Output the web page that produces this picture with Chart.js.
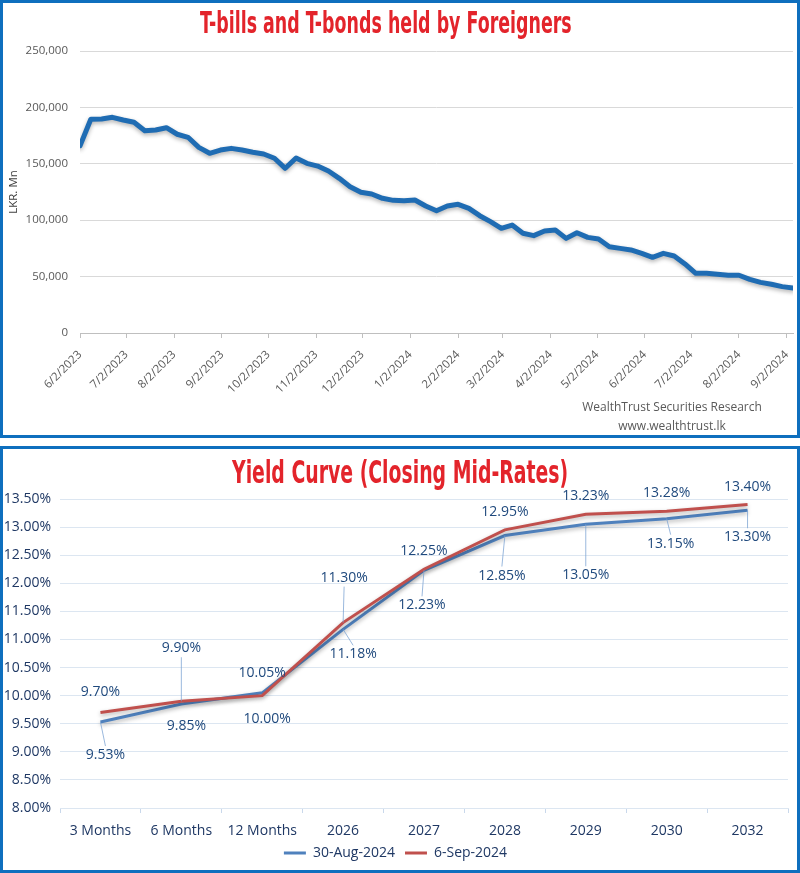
<!DOCTYPE html>
<html>
<head>
<meta charset="utf-8">
<script src="https://cdn.jsdelivr.net/npm/chart.js@4.4.1/dist/chart.umd.min.js"></script>
<style>
  html, body { margin: 0; padding: 0; background: #fff; }
  body { width: 800px; height: 873px; position: relative; overflow: hidden; }
  .panel { position: absolute; left: 0; width: 800px; box-sizing: border-box; border: 3px solid #0E6FBE; background: #fff; }
  .wrap { position: absolute; left: 0; top: 0; }
  .title { position: absolute; white-space: nowrap; font-family: 'Liberation Sans Narrow', 'DejaVu Sans Condensed', 'Liberation Sans', sans-serif; font-weight: bold; color: #E3242B; transform-origin: 0 50%; }
  .src { position: absolute; width: 240px; text-align: center; font-family: 'Open Sans', sans-serif; font-size: 12px; line-height: 19px; color: #595959; }
</style>
</head>
<body>
<div class="panel" id="p1" style="top:0;height:438px;">
  <div class="wrap" style="width:794px;height:432px;"><canvas id="c1"></canvas></div>
  <div class="title" id="t1" style="font-size:30px;">T-bills and T-bonds held by Foreigners</div>
  <div class="src" style="left:549px;top:394px;">WealthTrust Securities Research<br>www.wealthtrust.lk</div>
</div>
<div class="panel" id="p2" style="top:446px;height:427px;">
  <div class="wrap" style="width:794px;height:421px;"><canvas id="c2"></canvas></div>
  <div class="title" id="t2" style="font-size:32px;">Yield Curve (Closing Mid-Rates)</div>
</div>
<script>
// ---------- Chart 1 data ----------
const weekDates = [
  '2023-06-02','2023-06-09','2023-06-16','2023-06-23','2023-06-30',
  '2023-07-07','2023-07-14','2023-07-21','2023-07-28',
  '2023-08-04','2023-08-11','2023-08-18','2023-08-25',
  '2023-09-01','2023-09-08','2023-09-15','2023-09-22','2023-09-29',
  '2023-10-06','2023-10-13','2023-10-20','2023-10-27',
  '2023-11-03','2023-11-10','2023-11-17','2023-11-24',
  '2023-12-01','2023-12-08','2023-12-15','2023-12-22','2023-12-29',
  '2024-01-05','2024-01-12','2024-01-19','2024-01-26',
  '2024-02-02','2024-02-09','2024-02-16','2024-02-23',
  '2024-03-01','2024-03-08','2024-03-15','2024-03-22','2024-03-29',
  '2024-04-05','2024-04-12','2024-04-19','2024-04-26',
  '2024-05-03','2024-05-10','2024-05-17','2024-05-24','2024-05-31',
  '2024-06-07','2024-06-14','2024-06-21','2024-06-28',
  '2024-07-05','2024-07-12','2024-07-19','2024-07-26',
  '2024-08-02','2024-08-09','2024-08-16','2024-08-23','2024-08-30',
  '2024-09-06'
];
const foreignHoldings = [
  166000,189500,189800,191200,188800,
  186800,179300,180000,182000,
  176200,173500,164600,159300,
  162200,163700,162200,160200,158700,
  154900,146000,155100,150400,
  148000,143600,137100,129700,
  124700,123200,119400,117600,117300,
  117900,112600,108400,112600,
  114100,110500,104000,98700,
  92800,95700,88400,86300,90400,
  91300,83900,88900,84800,
  83300,76500,75000,73600,70600,
  67100,70600,68300,61200,
  52900,52900,52000,51200,
  51200,47600,44900,43200,41100,
  39900
];
const monthTickLabels = ['6/2/2023','7/2/2023','8/2/2023','9/2/2023','10/2/2023','11/2/2023','12/2/2023',
  '1/2/2024','2/2/2024','3/2/2024','4/2/2024','5/2/2024','6/2/2024','7/2/2024','8/2/2024','9/2/2024'];
const holdingsTicks = [0, 50000, 100000, 150000, 200000, 250000];

// ---------- Chart 2 data ----------
const tenors = ['3 Months','6 Months','12 Months','2026','2027','2028','2029','2030','2032'];
const yield30Aug = [9.53, 9.85, 10.05, 11.18, 12.23, 12.85, 13.05, 13.15, 13.30];
const yield6Sep  = [9.70, 9.90, 10.00, 11.30, 12.25, 12.95, 13.23, 13.28, 13.40];
const seriesNames = ['30-Aug-2024', '6-Sep-2024'];
const yieldTicks = [8.0, 8.5, 9.0, 9.5, 10.0, 10.5, 11.0, 11.5, 12.0, 12.5, 13.0, 13.5];

// label placement (pixel offsets from each point) — layout only
const labelOffsets = [
  [[5,33],[5,22],[0,-20],[10,25],[-2,35],[-3,40],[0,51],[4,25],[0,27]],
  [[0,-20],[0,-53],[5,23],[1,-45],[0,-18],[0,-18],[0,-18],[0,-18],[0,-18]]
];

// ---------- helpers ----------
const DAY = 86400000;
const startMs = Date.UTC(2023, 5, 2);
function isoDay(s) { const p = s.split('-').map(Number); return Math.round((Date.UTC(p[0], p[1]-1, p[2]) - startMs) / DAY); }
function mdyDay(s) { const p = s.split('/').map(Number); return Math.round((Date.UTC(p[2], p[0]-1, p[1]) - startMs) / DAY); }

const shadowPlugin = {
  id: 'lineShadow',
  beforeDatasetDraw(chart) {
    const ctx = chart.ctx; ctx.save();
    ctx.shadowColor = 'rgba(0,0,0,0.30)';
    ctx.shadowBlur = 4; ctx.shadowOffsetX = 0; ctx.shadowOffsetY = 2;
  },
  afterDatasetDraw(chart) { chart.ctx.restore(); }
};

// ---------- Chart 1 ----------
const c1 = new Chart(document.getElementById('c1'), {
  type: 'line',
  data: {
    datasets: [{
      data: weekDates.map((d, i) => ({ x: isoDay(d), y: foreignHoldings[i] })),
      borderColor: '#1F6CB3', borderWidth: 5, pointRadius: 0, tension: 0, fill: false,
      borderJoinStyle: 'round', borderCapStyle: 'round'
    }]
  },
  plugins: [shadowPlugin],
  options: {
    responsive: true, maintainAspectRatio: false, animation: false,
    layout: { padding: { top: 48, right: 4, left: 0, bottom: 42 } },
    plugins: { legend: { display: false }, tooltip: { enabled: false } },
    scales: {
      x: {
        type: 'linear',
        min: 0, max: isoDay(weekDates[weekDates.length - 1]),
        afterBuildTicks: s => { s.ticks = monthTickLabels.map(l => ({ value: mdyDay(l) })); },
        afterFit: s => { s.height = 60; s.paddingRight = 0; s.paddingLeft = 0; },
        ticks: {
          autoSkip: false, minRotation: 45, maxRotation: 45, padding: 10,
          font: { family: 'Open Sans', size: 11.5 }, color: '#595959',
          callback: (v, i) => monthTickLabels[i]
        },
        grid: { drawOnChartArea: false, drawTicks: true, tickLength: 5, color: '#BFBFBF' },
        border: { display: true, color: '#BFBFBF' }
      },
      y: {
        min: 0, max: 250000,
        afterBuildTicks: s => { s.ticks = holdingsTicks.map(v => ({ value: v })); },
        afterFit: s => { s.width = 77; },
        ticks: {
          padding: 12, font: { family: 'Open Sans', size: 11.5 }, color: '#595959',
          callback: v => v.toLocaleString('en-US')
        },
        grid: { color: '#D9D9D9', drawTicks: false },
        border: { display: false },
        title: { display: true, text: 'LKR. Mn', font: { family: 'Open Sans', size: 11.5 }, color: '#404040', padding: { top: 4, bottom: 0 } }
      }
    }
  }
});

// ---------- Chart 2 ----------
const dataLabelPlugin = {
  id: 'yieldLabels',
  afterDatasetsDraw(chart) {
    const ctx = chart.ctx;
    ctx.save();
    ctx.font = '14px "Open Sans"';
    ctx.textAlign = 'center'; ctx.textBaseline = 'middle';
    chart.data.datasets.forEach((ds, di) => {
      const meta = chart.getDatasetMeta(di);
      meta.data.forEach((pt, j) => {
        const off = labelOffsets[di][j];
        const lx = pt.x + off[0], ly = pt.y + off[1];
        if (Math.abs(off[1]) > 24) {
          const sgn = off[1] > 0 ? 1 : -1;
          ctx.strokeStyle = 'rgba(120,160,210,0.75)'; ctx.lineWidth = 1;
          ctx.beginPath(); ctx.moveTo(pt.x, pt.y); ctx.lineTo(lx, ly - sgn * 9); ctx.stroke();
        }
        ctx.fillStyle = '#1F497D';
        ctx.fillText(ds.data[j].toFixed(2) + '%', lx, ly);
      });
    });
    ctx.restore();
  }
};

const c2 = new Chart(document.getElementById('c2'), {
  type: 'line',
  data: {
    labels: tenors,
    datasets: [
      { label: seriesNames[0], data: yield30Aug, borderColor: '#4F81BD', backgroundColor: '#4F81BD', borderWidth: 3, pointRadius: 0, tension: 0, order: 1 },
      { label: seriesNames[1], data: yield6Sep,  borderColor: '#C0504D', backgroundColor: '#C0504D', borderWidth: 3, pointRadius: 0, tension: 0, order: 0 }
    ]
  },
  plugins: [shadowPlugin, dataLabelPlugin],
  options: {
    responsive: true, maintainAspectRatio: false, animation: false,
    layout: { padding: { top: 50, right: 9, left: 0, bottom: 0 } },
    plugins: {
      tooltip: { enabled: false },
      legend: {
        position: 'bottom',
        labels: {
          boxWidth: 22, boxHeight: 3, padding: 10,
          font: { family: 'Open Sans', size: 14 }, color: '#1F3864',
          sort: (a, b) => a.datasetIndex - b.datasetIndex,
          generateLabels: ch => ch.data.datasets.map((ds, i) => ({
            text: ds.label, fillStyle: ds.borderColor, strokeStyle: ds.borderColor, lineWidth: 0,
            hidden: false, datasetIndex: i, fontColor: '#1F3864'
          }))
        }
      }
    },
    scales: {
      x: {
        offset: true,
        afterFit: s => { s.height = 28; },
        ticks: { padding: 10, font: { family: 'Open Sans', size: 14 }, color: '#1F3864' },
        grid: { offset: true, drawOnChartArea: false, drawTicks: true, tickLength: 5, color: '#C9D8EB' },
        border: { display: true, color: '#DCE6F1' }
      },
      y: {
        min: 8, max: 13.5,
        afterBuildTicks: s => { s.ticks = yieldTicks.map(v => ({ value: v })); },
        afterFit: s => { s.width = 57; },
        ticks: { padding: 9, font: { family: 'Open Sans', size: 14 }, color: '#1F3864', callback: v => v.toFixed(2) + '%' },
        grid: { color: '#DCE6F1', drawTicks: false },
        border: { display: false }
      }
    }
  }
});

// ---------- titles (fit to reference width) ----------
function placeTitle(id, cx, cy, targetW) {
  const el = document.getElementById(id);
  const w = el.offsetWidth, h = el.offsetHeight;
  el.style.left = (cx - targetW / 2) + 'px';
  el.style.top = (cy - h / 2) + 'px';
  el.style.transform = 'scaleX(' + (targetW / w) + ')';
}
placeTitle('t1', 383, 19, 372);
placeTitle('t2', 397, 23, 336);
</script>
</body>
</html>
